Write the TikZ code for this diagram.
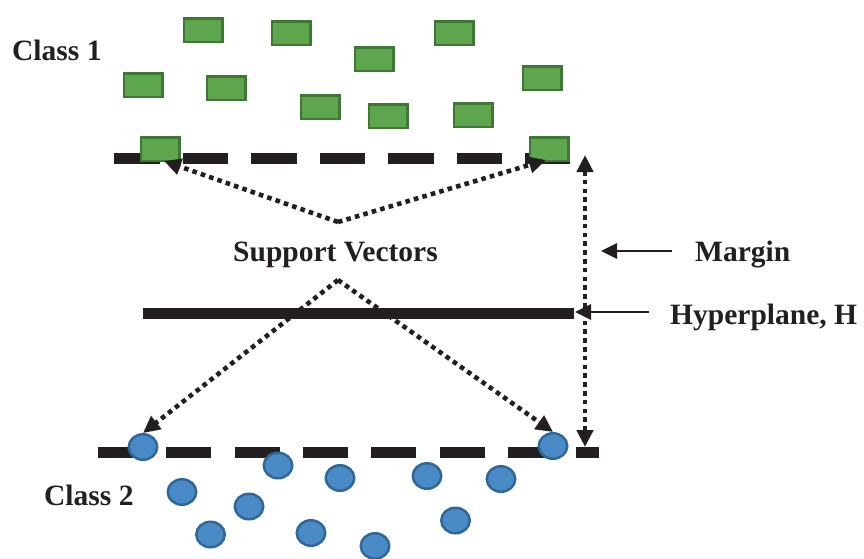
\documentclass[tikz,border=0pt]{standalone}
\usepackage{fontspec}
\setmainfont{Liberation Serif}
\usetikzlibrary{arrows.meta,shapes.geometric}

\definecolor{ink}{HTML}{231F20}
\definecolor{sqfill}{HTML}{5DA64E}
\definecolor{sqedge}{HTML}{3E7833}
\definecolor{dotfill}{HTML}{4A8BC7}
\definecolor{dotedge}{HTML}{2F6898}

\tikzset{
  sq/.style={rectangle, draw=sqedge, fill=sqfill, line width=2.5pt,
    minimum width=38.5pt, minimum height=23.5pt, inner sep=0pt},
  pt/.style={ellipse, draw=dotedge, fill=dotfill, line width=2.5pt,
    minimum width=28.5pt, minimum height=25.5pt, inner sep=0pt},
  label/.style={anchor=base west, inner sep=0pt, text=ink,
    font=\fontsize{29.5}{35}\selectfont\bfseries},
  boundary/.style={draw=ink, line width=11pt, line cap=butt},
  dotline/.style={draw=ink, line width=4.6pt, line cap=butt,
    dash pattern=on 4.6pt off 4.2pt},
  bigtip/.style={-{Triangle[length=17pt,width=16pt]}},
  pointer/.style={draw=ink, line width=2.8pt,
    -{Triangle[length=16pt,width=15pt]}},
}

\begin{document}
\begin{tikzpicture}[x=1pt,y=-1pt]
\useasboundingbox (0,0) rectangle (864,558);

% margin boundaries and hyperplane
\draw[boundary, dash pattern=on 45.7pt off 22.8pt] (114,158) -- (570,158);
\draw[boundary, dash pattern=on 45pt off 23.3pt] (98,452) -- (599,452);
\draw[boundary] (143,313) -- (574,313);

% class 1 samples
\node[sq] (s1)  at (203,30)  {};
\node[sq] (s2)  at (291,33)  {};
\node[sq] (s3)  at (454,33)  {};
\node[sq] (s4)  at (374,59)  {};
\node[sq] (s5)  at (143,85)  {};
\node[sq] (s6)  at (226,88)  {};
\node[sq] (s7)  at (542,78)  {};
\node[sq] (s8)  at (320,107) {};
\node[sq] (s9)  at (388,116) {};
\node[sq] (s10) at (473,115) {};
\node[sq] (sv1) at (160,149) {};
\node[sq] (sv2) at (549,149) {};

% class 2 samples
\node[pt] (c1)  at (278,465.5) {};
\node[pt] (c2)  at (340,478)   {};
\node[pt] (c3)  at (427,476)   {};
\node[pt] (c4)  at (501,479)   {};
\node[pt] (c5)  at (182,492)   {};
\node[pt] (c6)  at (249,506.5) {};
\node[pt] (c7)  at (210.5,534.5) {};
\node[pt] (c8)  at (311,533)   {};
\node[pt] (c9)  at (375,546)   {};
\node[pt] (c10) at (455.5,520.5) {};
\node[pt] (sv3) at (143,447)   {};
\node[pt] (sv4) at (553,446)   {};

% labels
\node[label] (class1) at (12,60)    {Class 1};
\node[label] (svtext) at (233,261.7) {Support Vectors};
\node[label] (class2) at (44,505)   {Class 2};
\node[label] (margin) at (695,261.7) {Margin};
\node[label] (hyper)  at (670,324)  {Hyperplane, H};

% arrow anchor points
\coordinate (apexup)   at (338,222);
\coordinate (apexdown) at (338,280);
\coordinate (tipa) at (164,161);
\coordinate (tipb) at (546,160);
\coordinate (mtop) at (585,155);
\coordinate (mbot) at (585,447);
\coordinate (mtail) at (672,251);
\coordinate (mhead) at (601,251);
\coordinate (htail) at (649,312);
\coordinate (hhead) at (575,312);

% support vector pointers
\draw[dotline, bigtip] (apexup) -- (tipa);
\draw[dotline, bigtip] (apexup) -- (tipb);
\draw[dotline, bigtip] (apexdown) -- (sv3.north);
\draw[dotline, bigtip] (apexdown) -- (sv4.north);

% margin width
\draw[dotline, {Triangle[length=17pt,width=16pt]}-{Triangle[length=17pt,width=16pt]}] (mtop) -- (mbot);

% label pointers
\draw[pointer] (mtail) -- (mhead);
\draw[pointer] (htail) -- (hhead);
\end{tikzpicture}
\end{document}
